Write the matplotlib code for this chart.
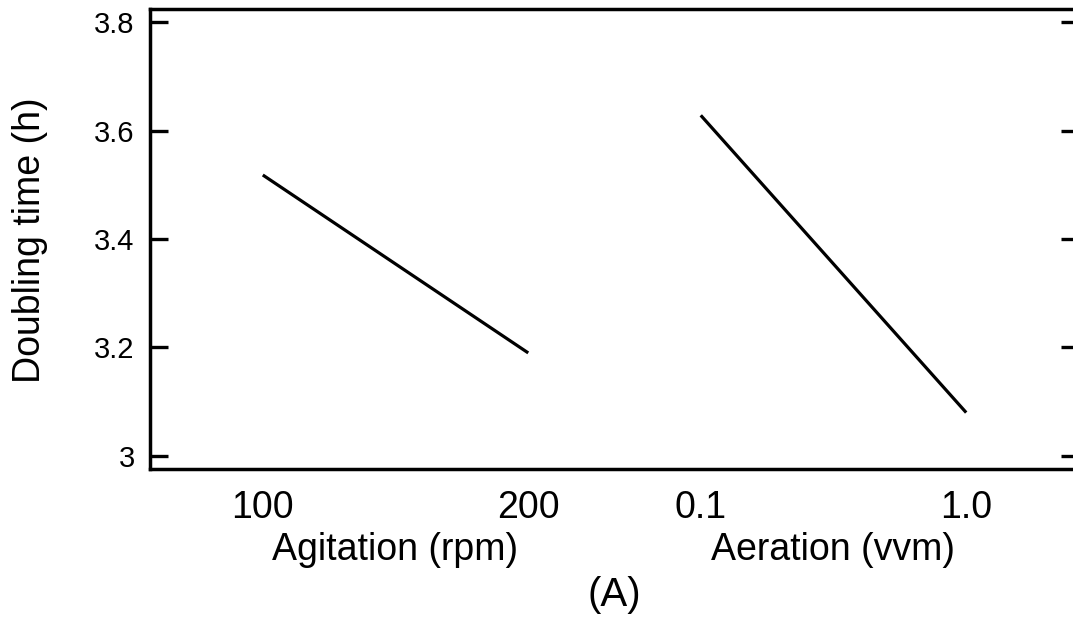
import matplotlib
matplotlib.use("Agg")
import matplotlib.pyplot as plt

plt.rcParams['font.family'] = ['Liberation Sans', 'DejaVu Sans']

# Main-effect means of doubling time (h)
agitation_levels = ["100", "200"]
agitation_means = [3.518, 3.190]
aeration_levels = ["0.1", "1.0"]
aeration_means = [3.628, 3.080]

y_ticks = [3.0, 3.2, 3.4, 3.6, 3.8]
y_tick_labels = ["3", "3.2", "3.4", "3.6", "3.8"]

# horizontal placement of the two factor panels on a shared axis
agitation_x = [0.0, 1.0]
aeration_x = [1.65, 2.65]

fig = plt.figure(figsize=(10.73, 6.19), dpi=100)
ax = fig.add_axes([150 / 1073, 150 / 619, 929 / 1073, 460 / 619])

ax.plot(agitation_x, agitation_means, color="black", lw=2.3, solid_capstyle="butt")
ax.plot(aeration_x, aeration_means, color="black", lw=2.3, solid_capstyle="butt")

ax.set_xlim(-0.425, 3.075)
ax.set_ylim(2.976, 3.824)

ax.set_yticks(y_ticks)
ax.set_yticklabels(y_tick_labels)
ax.tick_params(axis="y", which="both", direction="in", length=13, width=2.4,
               left=True, right=True, labelsize=21, pad=11)

ax.set_xticks(agitation_x + aeration_x)
ax.set_xticklabels(agitation_levels + aeration_levels)
ax.tick_params(axis="x", length=0, labelsize=27, pad=15)

for sp in ax.spines.values():
    sp.set_linewidth(2.5)
    sp.set_color("black")

trans = ax.get_xaxis_transform()
ax.text(sum(agitation_x) / 2, -0.176, "Agitation (rpm)", transform=trans,
        ha="center", va="center", fontsize=27)
ax.text(sum(aeration_x) / 2, -0.176, "Aeration (vvm)", transform=trans,
        ha="center", va="center", fontsize=27)
ax.text(0.5, -0.274, "(A)", transform=ax.transAxes, ha="center", va="center",
        fontsize=29)

fig.text(30 / 1073, 1 - 240 / 619, "Doubling time (h)", rotation=90,
         ha="center", va="center", fontsize=27)

fig.savefig("out.png", dpi=100)
